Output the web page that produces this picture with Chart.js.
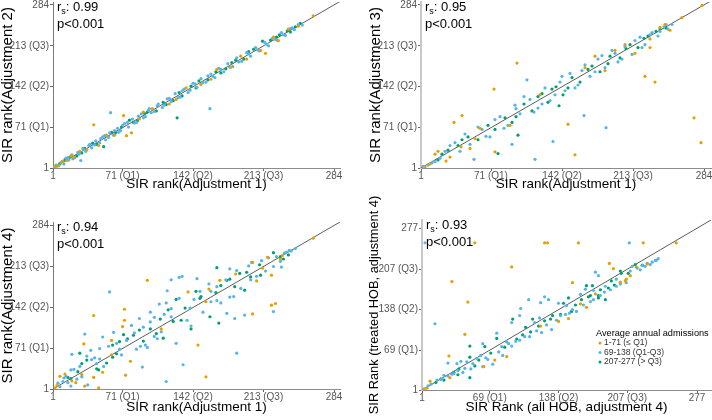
<!DOCTYPE html>
<html>
<head>
<meta charset="utf-8">
<script src="https://cdn.jsdelivr.net/npm/chart.js@4.4.0/dist/chart.umd.min.js"></script>
<style>
  html, body { margin: 0; padding: 0; background: #fff; overflow: hidden; width: 712px; height: 420px; }
  canvas { position: absolute; }
</style>
</head>
<body>
<canvas id="c1" width="356" height="205" style="left:0;top:-5px"></canvas>
<canvas id="c2" width="350" height="205" style="left:368px;top:-5px"></canvas>
<canvas id="c3" width="356" height="224" style="left:0;top:196px"></canvas>
<canvas id="c4" width="350" height="224" style="left:368px;top:196px"></canvas>
<script>
// tick positions and labels
const rankTicks = [1, 71, 142, 213, 284];
const rankLabels = ['1', '71 (Q1)', '142 (Q2)', '213 (Q3)', '284'];
const hobTicks = [1, 69, 138, 207, 277];
const hobLabels = ['1', '69 (Q1)', '138 (Q2)', '207 (Q3)', '277'];

const groupLabels = ['1-71 (≤ Q1)', '69-138 (Q1-Q3)', '207-277 (> Q3)'];
const legendTitle = 'Average annual admissions';
const corrValues = ['0.99', '0.95', '0.94', '0.93'];
const pValues = ['p<0.001', 'p<0.001', 'p<0.001', 'p<0.001'];

// panel 1: adjustment 1 vs adjustment 2  [x, y]
const adj2Low = [[3,2],[6,5],[10,12],[15,14],[19,22],[22,20],[28,30],[35,33],[42,76],[47,40],[55,58],[63,58],[72,92],[75,57],[80,62],[88,86],[92,98],[101,104],[118,112],[125,120],[135,140],[150,146],[160,155],[166,172],[180,176],[190,195],[196,190],[210,205],[215,200],[223,228],[228,222],[238,242],[248,247],[263,265]];
const adj2Mid = [[2,3],[4,6],[5,4],[7,5],[9,10],[11,13],[12,8],[14,18],[16,19],[17,15],[20,24],[21,17],[23,19],[26,28],[27,25],[29,14],[31,35],[32,33],[34,30],[37,40],[38,42],[40,36],[43,41],[44,48],[48,45],[49,52],[51,55],[53,57],[54,50],[57,54],[58,62],[59,97],[62,58],[63,66],[66,70],[67,63],[69,66],[71,75],[73,78],[76,80],[77,72],[81,86],[83,79],[85,80],[87,91],[90,95],[92,88],[94,90],[97,101],[98,104],[100,97],[103,99],[106,109],[107,112],[111,106],[113,110],[116,121],[118,122],[120,116],[124,130],[127,123],[129,124],[131,135],[133,138],[137,132],[139,136],[142,148],[144,147],[146,141],[150,156],[152,149],[155,150],[157,161],[159,104],[160,164],[162,160],[164,158],[168,174],[170,172],[173,168],[177,182],[179,176],[182,177],[186,192],[188,185],[191,186],[196,201],[198,199],[200,195],[205,210],[207,206],[209,204],[214,219],[216,216],[218,213],[222,226],[225,224],[227,222],[231,236],[233,232],[235,231],[240,243],[242,244],[244,241],[248,250],[252,249]];
const adj2High = [[8,9],[13,15],[18,20],[25,22],[30,27],[33,35],[41,44],[45,42],[52,38],[60,63],[64,62],[70,72],[78,84],[82,80],[86,83],[93,96],[96,98],[105,100],[112,115],[115,111],[122,118],[126,88],[128,132],[131,126],[140,143],[145,140],[148,152],[157,154],[165,168],[170,166],[175,173],[181,184],[185,188],[193,190],[198,203],[203,207],[212,221],[220,223],[226,228],[229,232],[237,239],[240,237],[245,246],[250,252]];

// panel 2: adjustment 1 vs adjustment 3
const adj3Low = [[97,183],[74,138],[42,92],[34,80],[148,77],[155,24],[75,29],[41,38],[26,13],[30,20],[5,3],[10,8],[15,25],[18,30],[50,35],[55,52],[60,70],[90,75],[120,128],[165,175],[175,195],[185,170],[195,205],[205,215],[215,200],[230,225],[240,245],[245,250],[250,240],[262,262],[282,283],[225,160],[235,150],[230,210],[274,88],[281,45]];
const adj3Mid = [[186,71],[164,92],[133,47],[115,16],[92,42],[54,16],[15,12],[20,18],[25,30],[30,40],[40,30],[12,10],[35,45],[45,60],[50,42],[58,72],[62,68],[66,56],[70,55],[75,85],[80,90],[84,70],[88,75],[95,110],[96,104],[100,95],[104,125],[107,154],[110,120],[114,98],[118,105],[122,112],[125,140],[130,118],[135,128],[140,150],[142,160],[145,135],[150,165],[155,140],[158,145],[162,170],[165,180],[170,160],[175,168],[178,190],[182,196],[185,175],[192,205],[195,200],[198,185],[202,190],[205,212],[212,198],[215,222],[220,228],[222,210],[225,215],[230,232],[232,236],[238,230],[240,238],[244,246],[246,250],[248,242],[252,250],[8,6],[3,4]];
const adj3High = [[139,109],[98,58],[78,26],[18,15],[22,25],[28,32],[38,40],[42,50],[48,55],[58,50],[68,75],[75,68],[85,88],[92,80],[96,90],[104,112],[112,100],[118,125],[122,130],[128,115],[132,138],[136,142],[143,128],[148,140],[152,158],[160,150],[168,172],[172,178],[180,168],[188,182],[190,195],[200,192],[206,208],[210,215],[218,210],[224,226],[228,230],[236,238],[240,242],[246,244]];

// panel 3: adjustment 1 vs adjustment 4
const adj4Low = [[263,262],[217,229],[202,220],[206,188],[221,198],[221,146],[225,149],[202,131],[169,189],[158,174],[137,169],[155,152],[96,189],[73,139],[73,120],[42,128],[71,109],[147,77],[155,22],[32,79],[79,49],[74,25],[51,30],[42,21],[47,3],[33,6],[24,12],[20,15],[13,27],[8,23],[5,7],[3,3],[30,26],[230,226],[232,232],[60,60],[60,85],[110,105],[185,200],[212,210]];
const adj4Mid = [[58,169],[33,96],[20,61],[35,58],[43,55],[48,53],[19,34],[14,23],[12,20],[11,14],[6,11],[16,12],[36,8],[19,6],[22,35],[30,22],[40,52],[52,40],[91,39],[115,14],[132,43],[186,63],[125,80],[103,92],[106,88],[88,123],[80,111],[83,98],[92,108],[103,125],[113,130],[120,126],[120,140],[120,190],[115,150],[128,194],[131,196],[136,120],[143,156],[146,192],[152,134],[158,183],[160,170],[166,178],[149,170],[170,150],[175,190],[179,209],[186,206],[190,175],[198,214],[201,220],[206,196],[211,223],[218,228],[223,213],[226,230],[231,212],[234,236],[236,238],[239,241],[241,240],[223,135],[176,132],[184,123],[194,129],[179,160],[183,161],[166,154],[139,141],[128,158],[116,171],[108,148],[99,134],[99,117],[94,77],[96,73],[89,75],[57,75],[62,99],[65,80],[70,60],[51,91],[48,71],[39,68],[8,5],[25,18],[28,40],[68,70],[75,85],[140,110],[200,190],[215,205],[245,244],[160,152],[110,100],[85,70],[45,45],[230,222]];
const adj4High = [[166,211],[176,189],[184,178],[194,172],[165,168],[149,158],[159,126],[168,115],[125,156],[117,138],[134,141],[140,105],[122,118],[130,120],[112,89],[105,97],[92,84],[88,103],[82,94],[76,88],[72,95],[68,83],[65,62],[61,56],[55,46],[61,77],[47,34],[45,36],[30,45],[28,63],[35,51],[16,21],[26,31],[19,19],[209,216],[238,233],[233,226],[230,230],[189,201],[196,203],[200,195],[210,198],[179,191],[170,180],[150,161],[145,170],[99,105],[109,122],[223,237]];

// panel 4: all HOB vs treated HOB (adjustment 4)
const hobLow = [[54,252],[124,252],[127,252],[158,252],[223,252],[256,252],[91,211],[31,186],[47,151],[44,96],[28,59],[74,52],[63,41],[189,217],[152,184],[193,208],[206,190],[205,187],[210,196],[200,185],[175,165],[160,148],[166,142],[148,123],[138,118],[120,110],[86,58],[9,16],[29,22],[227,216],[216,211],[3,2],[6,4]];
const hobMid = [[4,252],[209,252],[14,114],[175,202],[196,190],[178,196],[165,173],[173,171],[160,164],[100,140],[120,150],[108,155],[128,155],[124,160],[138,149],[146,145],[99,128],[119,124],[114,116],[91,116],[76,98],[62,80],[86,83],[81,75],[67,53],[56,55],[46,49],[40,50],[36,46],[27,47],[37,34],[23,26],[20,19],[31,28],[16,18],[10,11],[7,8],[210,204],[217,209],[222,213],[227,217],[232,219],[220,206],[225,212],[230,215],[236,222],[206,184],[200,182],[196,178],[190,172],[184,168],[180,162],[173,155],[170,152],[163,146],[156,135],[152,138],[149,132],[145,130],[136,120],[131,104],[126,112],[121,99],[116,102],[109,92],[104,92],[99,86],[95,84],[91,76],[88,80],[82,60],[78,66],[72,45],[65,56],[62,41],[52,46],[50,37],[44,38],[42,31],[27,25],[212,212],[185,178],[140,128],[60,60],[33,29],[3,3],[235,222],[238,225]];
const hobHigh = [[200,204],[201,200],[191,187],[188,175],[178,162],[180,172],[170,162],[161,155],[148,158],[143,149],[151,135],[132,128],[124,119],[112,122],[105,108],[102,95],[92,122],[76,89],[64,75],[49,76],[49,57],[38,37],[33,31],[23,18],[15,14],[54,42],[49,22],[37,27],[166,179],[172,179],[185,155],[178,158],[215,215],[20,20],[58,52],[70,64],[84,74],[96,88],[110,100],[118,110],[130,122],[140,130],[155,146],[168,160],[194,180],[208,200],[222,214]];

const FONT = "'Liberation Sans', Arial, Helvetica, sans-serif";
const groupColors = ['#E69F00', '#56B4E9', '#009E73'];

function rankAxis(ticks, labels, max, title, isY, fitSize, border, titlePad, titleSize) {
  return {
    type: 'linear', min: 1, max: max,
    afterBuildTicks: s => { s.ticks = ticks.map(v => ({ value: v })); },
    afterFit: s => { if (isY) s.width = fitSize; else s.height = fitSize; },
    ticks: {
      autoSkip: false, maxRotation: 0, color: '#555', padding: isY ? 1 : 0,
      font: { family: FONT, size: 10, lineHeight: 1 },
      callback: (v, i) => labels[i]
    },
    grid: { drawOnChartArea: false, drawTicks: true, tickLength: 3, color: '#666' },
    border: { display: true, color: border.color, width: border.width },
    title: {
      display: true, text: title, color: '#000',
      font: { family: FONT, size: titleSize, lineHeight: 1 },
      padding: isY ? { top: 0, bottom: 0 } : { top: 0, bottom: titlePad }
    }
  };
}

const notePlugin = {
  id: 'note',
  afterDraw(chart, args, o) {
    const ctx = chart.ctx, a = chart.chartArea;
    ctx.save();
    ctx.fillStyle = '#000';
    ctx.textBaseline = 'alphabetic';
    ctx.textAlign = 'left';
    let x = a.left + 4;
    const y = a.top + 9;
    ctx.font = '13px ' + FONT;
    ctx.fillText('r', x, y);
    x += ctx.measureText('r').width;
    ctx.font = '9px ' + FONT;
    ctx.fillText('s', x, y + 3);
    x += ctx.measureText('s').width;
    ctx.font = '13px ' + FONT;
    ctx.fillText(': ' + o.rs, x, y);
    ctx.fillText(o.p, a.left + 4, a.top + 26);

    if (o.legend) {
      const lx = a.right - 115;
      ctx.font = '9.2px ' + FONT;
      ctx.textBaseline = 'middle';
      ctx.fillText(legendTitle, lx, a.bottom - 57);
      ctx.font = '8.5px ' + FONT;
      const sets = chart.data.datasets.filter(d => d.type === 'scatter');
      sets.forEach((d, i) => {
        const yy = a.bottom - 47 + i * 9.5;
        ctx.fillStyle = d.backgroundColor;
        ctx.beginPath();
        ctx.arc(lx + 4, yy, 1.5, 0, Math.PI * 2);
        ctx.fill();
        ctx.fillStyle = '#333';
        ctx.fillText(d.label, lx + 8, yy);
      });
    }
    ctx.restore();
  }
};

function toXY(arr) { return arr.map(p => ({ x: p[0], y: p[1] })); }

function makePanel(id, groups, cfg) {
  const datasets = groups.map((g, i) => ({
    type: 'scatter', label: groupLabels[i], data: toXY(g),
    backgroundColor: groupColors[i], pointBackgroundColor: groupColors[i],
    pointRadius: 1.6, pointBorderWidth: 0, pointHoverRadius: 1.6
  }));
  datasets.push({
    type: 'line', label: 'identity', data: [{ x: 0, y: 0 }, { x: 320, y: 320 }],
    borderColor: '#333', borderWidth: 0.8, pointRadius: 0, fill: false
  });
  new Chart(document.getElementById(id), {
    type: 'scatter',
    data: { datasets: datasets },
    options: {
      responsive: false, animation: false,
      layout: { padding: cfg.padding },
      plugins: {
        legend: { display: false }, tooltip: { enabled: false },
        note: { rs: cfg.rs, p: cfg.p, legend: cfg.legend }
      },
      scales: {
        x: rankAxis(cfg.ticks, cfg.labels, cfg.xMax, cfg.xTitle, false, cfg.xFit, { color: '#8c8c8c', width: 1 }, cfg.titlePad, 13.5),
        y: rankAxis(cfg.ticks, cfg.labels, cfg.yMax, cfg.yTitle, true, cfg.yFit, cfg.yBorder, 0, cfg.yTitleSize)
      }
    },
    plugins: [notePlugin]
  });
}

makePanel('c1', [adj2Low, adj2Mid, adj2High], {
  ticks: rankTicks, labels: rankLabels, xMax: 290, yMax: 289,
  xTitle: 'SIR rank(Adjustment 1)', yTitle: 'SIR rank(Adjustment 2)', yTitleSize: 15,
  padding: { top: 7, right: 16, left: 0, bottom: 0 }, xFit: 32, yFit: 53, titlePad: 9,
  yBorder: { color: '#7a7a7a', width: 1 }, rs: corrValues[0], p: pValues[0], legend: false
});
makePanel('c2', [adj3Low, adj3Mid, adj3High], {
  ticks: rankTicks, labels: rankLabels, xMax: 291, yMax: 289,
  xTitle: 'SIR rank(Adjustment 1)', yTitle: 'SIR rank(Adjustment 3)', yTitleSize: 15,
  padding: { top: 7, right: 7, left: 0, bottom: 0 }, xFit: 32, yFit: 53, titlePad: 9,
  yBorder: { color: '#c8c8c8', width: 2 }, rs: corrValues[1], p: pValues[1], legend: false
});
makePanel('c3', [adj4Low, adj4Mid, adj4High], {
  ticks: rankTicks, labels: rankLabels, xMax: 290, yMax: 290,
  xTitle: 'SIR rank(Adjustment 1)', yTitle: 'SIR rank(Adjustment 4)', yTitleSize: 15,
  padding: { top: 26, right: 16, left: 0, bottom: 0 }, xFit: 31, yFit: 53, titlePad: 6,
  yBorder: { color: '#7a7a7a', width: 1 }, rs: corrValues[2], p: pValues[2], legend: false
});
makePanel('c4', [hobLow, hobMid, hobHigh], {
  ticks: hobTicks, labels: hobLabels, xMax: 291, yMax: 291,
  xTitle: 'SIR Rank (all HOB, adjustment 4)', yTitle: 'SIR Rank (treated HOB, adjustment 4)', yTitleSize: 12.8,
  padding: { top: 24, right: 7, left: 0, bottom: 0 }, xFit: 30, yFit: 54, titlePad: 6,
  yBorder: { color: '#c8c8c8', width: 2 }, rs: corrValues[3], p: pValues[3], legend: true
});
</script>
</body>
</html>
